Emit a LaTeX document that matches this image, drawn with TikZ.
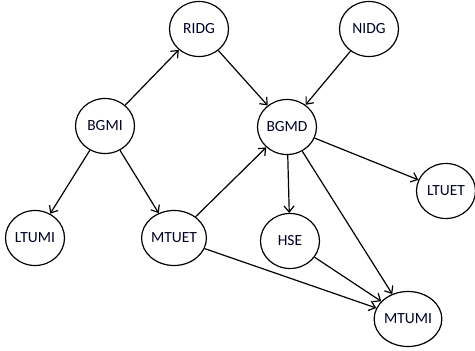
\documentclass[tikz,border=0pt]{standalone}
\usepackage{fontspec}
\setmainfont{Carlito}
\usetikzlibrary{shapes.geometric,arrows.meta}
\tikzset{
  var/.style={draw, ellipse, line width=1.2pt, minimum width=59pt, minimum height=55pt,
              inner sep=0pt, font=\fontsize{15.5}{15.5}\selectfont, text=black!85!blue},
  link/.style={line width=1.2pt, -{Straight Barb[length=6pt,width=10pt,line width=1.2pt]}}
}
\begin{document}
\begin{tikzpicture}[x=1pt,y=-1pt]
  \useasboundingbox (0,0) rectangle (475,351);
  \node[var] (RIDG)  at (199,29)  {RIDG};
  \node[var] (NIDG)  at (369,29)  {NIDG};
  \node[var] (BGMI)  at (105,126) {BGMI};
  \node[var] (BGMD)  at (287,127) {BGMD};
  \node[var] (LTUMI) at (35,238)  {LTUMI};
  \node[var] (MTUET) at (174,238) {MTUET};
  \node[var] (HSE)   at (290,241) {HSE};
  \node[var] (LTUET) at (446,191) {LTUET};
  \node[var] (MTUMI) at (408,319) {MTUMI};

  \draw[link] (BGMI) -- (RIDG);
  \draw[link] (RIDG) -- (BGMD);
  \draw[link] (NIDG) -- (BGMD);
  \draw[link] (BGMI) -- (LTUMI);
  \draw[link] (BGMI) -- (MTUET);
  \draw[link] (MTUET) -- (BGMD);
  \draw[link] (BGMD) -- (LTUET);
  \draw[link] (BGMD) -- (HSE);
  \draw[link] (BGMD) -- (MTUMI);
  \draw[link] (HSE) -- (MTUMI);
  \draw[link] (MTUET) -- (MTUMI);
\end{tikzpicture}
\end{document}
